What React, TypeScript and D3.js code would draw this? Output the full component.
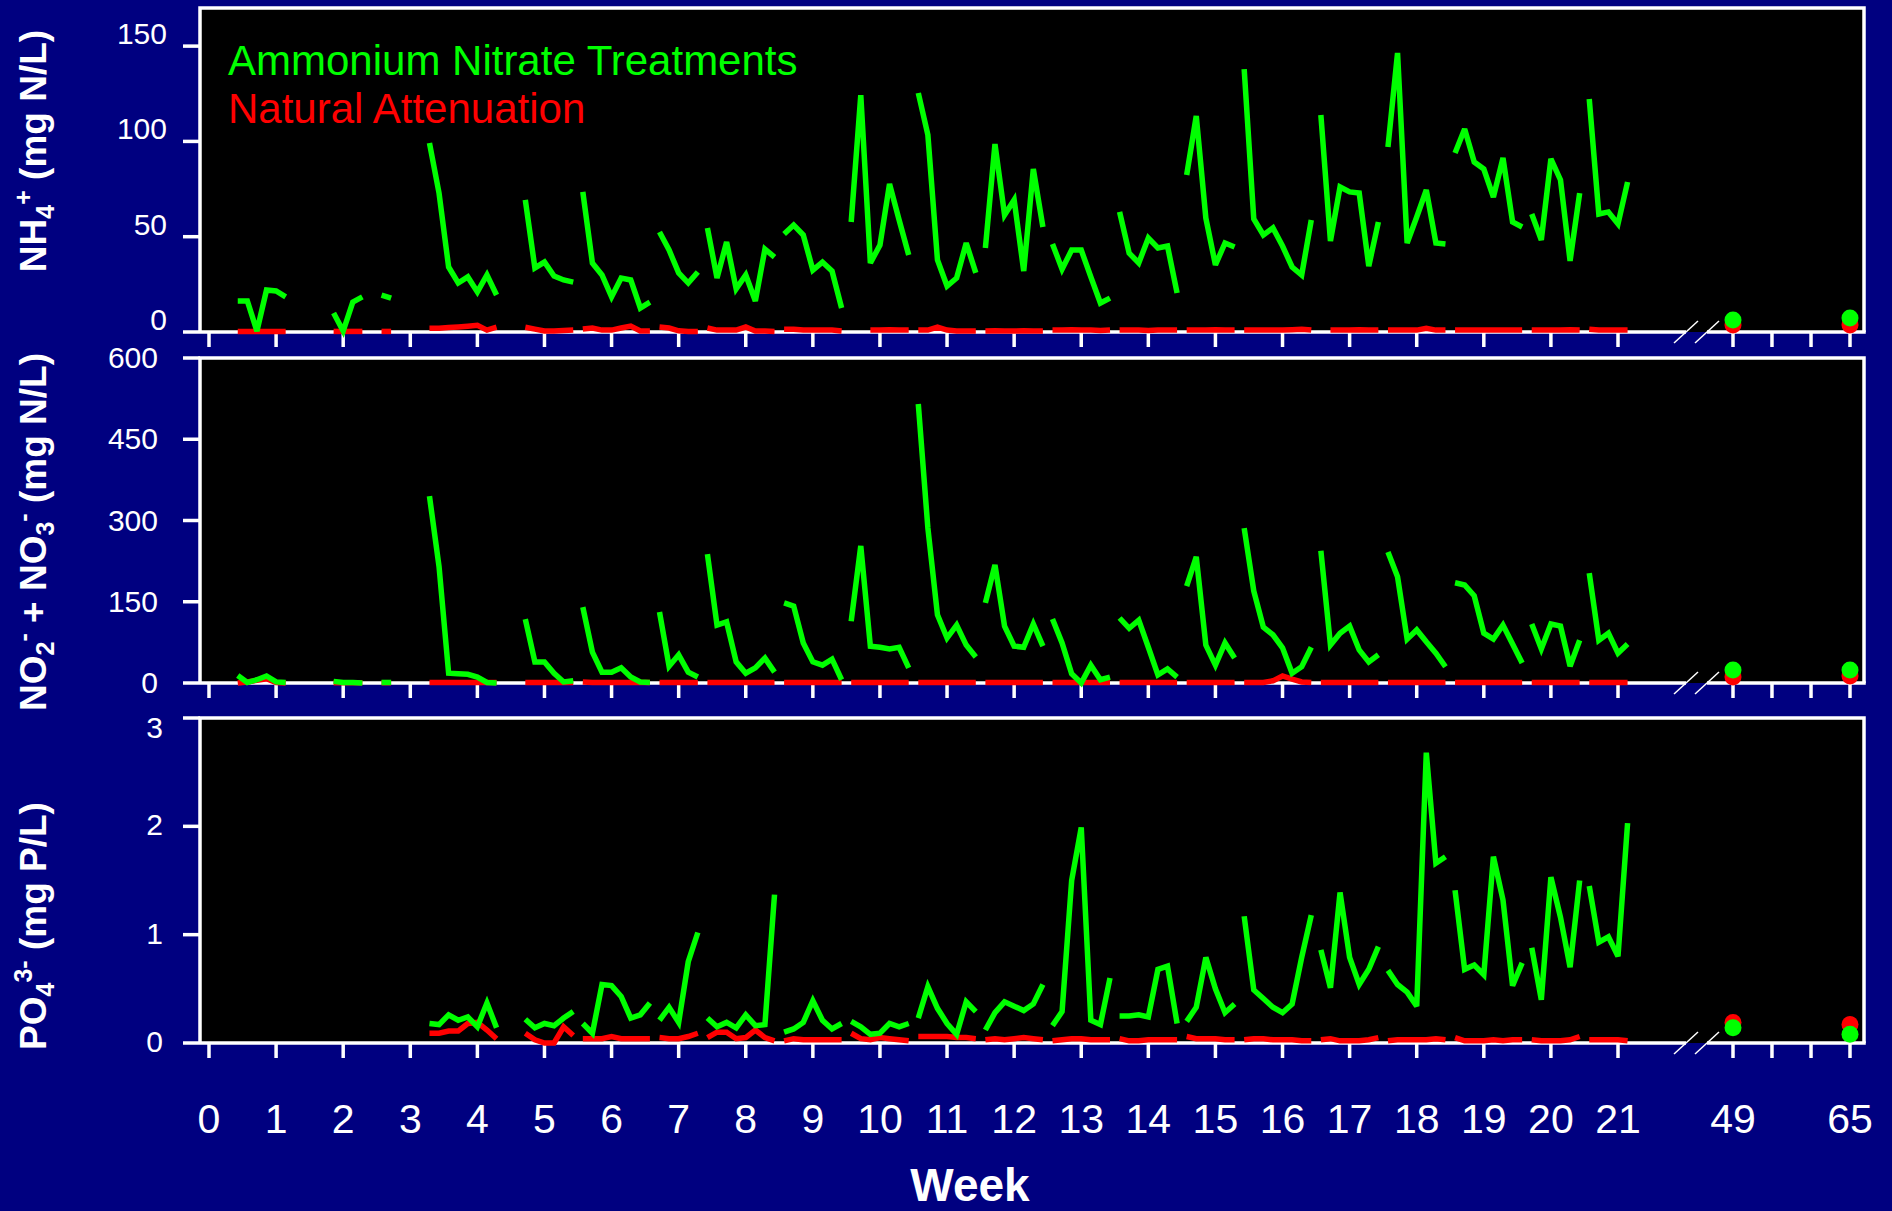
import React from 'react';
import * as d3 from 'd3';

// ---------- DATA ----------
// sampling days (since start) of each weekly segment
const segmentDays: number[][] = [
  [3, 4, 5, 6, 7, 8],
  [13, 14, 15, 16],
  [18, 19],
  [23, 24, 25, 26, 27, 28, 29, 30],
  [33, 34, 35, 36, 37, 38],
  [39, 40, 41, 42, 43, 44, 45, 46],
  [47, 48, 49, 50, 51],
  [52, 53, 54, 55, 56, 57, 58, 59],
  [60, 61, 62, 63, 64, 65, 66],
  [67, 68, 69, 70, 71, 72, 73],
  [74, 75, 76, 77, 78, 79, 80],
  [81, 82, 83, 84, 85, 86, 87],
  [88, 89, 90, 91, 92, 93, 94],
  [95, 96, 97, 98, 99, 100, 101],
  [102, 103, 104, 105, 106, 107],
  [108, 109, 110, 111, 112, 113, 114, 115],
  [116, 117, 118, 119, 120, 121, 122],
  [123, 124, 125, 126, 127, 128, 129],
  [130, 131, 132, 133, 134, 135, 136, 137],
  [138, 139, 140, 141, 142, 143],
  [144, 145, 146, 147, 148],
];

type V = number | null;

const nh4Treatment: V[][] = [
  [16.3, 16.3, 0.5, 22.0, 21.5, 18.4],
  [10, 0.5, 15.7, 18.4],
  [19.4, 17.8],
  [99.2, 72.9, 34.1, 25.7, 28.9, 21.0, 29.9, 19.4],
  [69.3, 33.6, 36.7, 29.4, 27.3, 26.2],
  [73.5, 36.2, 29.9, 18.4, 28.3, 27.3, 12.6, 15.7],
  [52.5, 43.0, 31.0, 25.7, 31.5],
  [54.6, 28.3, 47.2, 22.6, 29.9, 16.3, 43.5, 39.3],
  [51.4, 56.1, 50.9, 32.5, 36.7, 32.0, 12.6],
  [57.7, 124.3, 36.2, 45.6, 77.7, 58.8, 40.4],
  [125.4, 103.4, 37.8, 24.1, 28.3, 46.7, 31.0],
  [44.1, 98.6, 61.4, 69.3, 32.0, 85.5, 55.1],
  [46.2, 33.0, 43.0, 43.0, 28.9, 15.2, 17.8],
  [63.0, 41.4, 36.2, 49.3, 44.1, 45.1, 20.5],
  [82.4, 113.3, 59.8, 35.2, 46.7, 44.6],
  [137.9, 59.3, 50.9, 54.6, 45.1, 34.1, 29.9, 58.8],
  [113.9, 47.7, 76.1, 73.5, 72.9, 34.6, 57.7],
  [97.1, 146.4, 46.7, 60.3, 74.5, 46.7, 46.2],
  [93.9, 106.5, 89.2, 85.5, 70.8, 91.3, 57.7, 55.1],
  [61.9, 48.3, 90.8, 79.8, 37.3, 72.9],
  [122.2, 61.9, 63.0, 56.7, 78.7],
];

const nh4Natural: V[][] = [
  [0.3, 0.3, 0.3, 0.3, 0.3, 0.3],
  [0.3, 0.3, 0.3, 0.3],
  [0.3, 0.3],
  [2.0, 2.0, 2.3, 2.6, 3.0, 3.5, 1.0, 2.5],
  [2.5, 1.5, 0.5, 0.5, 0.8, 1.0],
  [1.6, 2.1, 1.0, 1.0, 2.1, 3.1, 0.5, 0.5],
  [2.6, 2.1, 0.6, 0.3, 0.3],
  [2.1, 1.0, 1.0, 1.0, 2.6, 0.5, 0.5, 0.3],
  [1.5, 1.5, 1.0, 1.0, 1.0, 1.0, 0.5],
  [null, null, 1.0, 1.0, 1.2, 1.0, 1.0],
  [1.0, 1.0, 2.6, 1.0, 0.5, 0.5, 0.5],
  [0.5, 0.6, 0.5, 0.5, 0.6, 0.5, 0.5],
  [1.0, 1.0, 1.2, 1.0, 1.0, 0.8, 1.0],
  [1.0, 1.0, 1.0, 0.8, 1.0, 1.0, 1.0],
  [1.0, 1.0, 1.0, 1.2, 1.0, 1.0],
  [1.0, 1.0, 1.0, 1.0, 1.0, 1.2, 1.5, 1.0],
  [null, 1.0, 1.0, 1.0, 1.2, 1.0, 1.0],
  [1.0, 1.0, 1.0, 1.0, 2.0, 1.0, 1.0],
  [1.0, 1.0, 1.0, 1.0, 1.0, 1.0, 1.0, 1.0],
  [1.0, 1.0, 1.0, 1.0, 1.2, 1.0],
  [1.5, 1.0, 1.0, 1.0, 1.0],
];

const noxTreatment: V[][] = [
  [14, 1, 6, 13, 2, 1],
  [3, 1, 1, 0],
  [1, 1],
  [345, 215, 18, 17, 16, 11, 1, 0],
  [118, 39, 39, 18, 2, 4],
  [140, 57, 20, 20, 28, 11, 2, 1],
  [131, 31, 52, 20, 11],
  [238, 107, 113, 39, 18, 28, 46, 20],
  [148, 142, 74, 39, 33, 44, 6],
  [114, 253, 68, 66, 63, 66, 28],
  [515, 286, 126, 83, 107, 70, 48],
  [148, 218, 105, 68, 66, 109, 68],
  [118, 74, 17, 0, 33, 6, 11],
  [120, 101, 116, 66, 15, 26, 11],
  [179, 233, 70, 33, 74, 46],
  [286, 170, 103, 89, 65, 18, 30, 66],
  [244, 70, 92, 105, 61, 39, 52],
  [242, 196, 81, 98, 76, 55, 30],
  [185, 181, 161, 92, 81, 107, 72, 37],
  [109, 63, 109, 105, 31, 79],
  [203, 79, 92, 55, 72],
];

const noxNatural: V[][] = [
  [0, 2, 5, 8, 1, 0],
  [0.5, 0.5, 0.5, 0.5],
  [0.5, 0.5],
  [1, 1, 1, 1, 1, 1, 1, 1],
  [1, 1, 1, 1, 1, 1],
  [2, 1, 1, 1, 1, 1, 1, 1],
  [1, 1, 1, 1, 1],
  [1, 1, 1, 1, 1, 1, 1, 1],
  [1, 1, 1, 1, 1, 1, 1],
  [1, 1, 1, 1, 1, 1, 1],
  [1, 1, 1, 1, 1, 1, 1],
  [1, 1, 1, 1, 1, 1, 1],
  [1, 1, 1, 1, 1, 1, 1],
  [1, 1, 1, 1, 1, 1, 1],
  [1, 1, 1, 1, 1, 1],
  [1, 1, 1, 4, 13, 7, 2, 1],
  [1, 1, 1, 1, 1, 1, 1],
  [1, 1, 1, 1, 1, 1, 1],
  [1, 1, 1, 1, 1, 1, 1, 1],
  [1, 1, 1, 1, 1, 1],
  [1, 1, 1, 1, 1],
];

const po4Treatment: V[][] = [
  [],
  [],
  [],
  [0.18, 0.17, 0.26, 0.21, 0.24, 0.15, 0.37, 0.14],
  [0.22, 0.14, 0.18, 0.16, 0.23, 0.29],
  [0.18, 0.09, 0.54, 0.53, 0.43, 0.23, 0.26, 0.37],
  [0.21, 0.33, 0.19, 0.75, 1.02],
  [0.23, 0.15, 0.19, 0.14, 0.26, 0.16, 0.17, 1.37],
  [0.10, 0.13, 0.19, 0.39, 0.21, 0.13, 0.18],
  [0.20, 0.15, 0.08, 0.09, 0.18, 0.15, 0.18],
  [0.23, 0.52, 0.32, 0.18, 0.08, 0.38, 0.29],
  [0.12, 0.28, 0.38, 0.34, 0.30, 0.36, 0.54],
  [0.16, 0.29, 1.50, 1.99, 0.21, 0.17, 0.60],
  [0.25, 0.25, 0.26, 0.24, 0.68, 0.71, 0.18],
  [0.20, 0.33, 0.79, 0.50, 0.28, 0.36],
  [1.17, 0.49, 0.41, 0.33, 0.28, 0.36, 0.79, 1.18],
  [0.86, 0.51, 1.39, 0.79, 0.54, 0.68, 0.89],
  [0.67, 0.54, 0.47, 0.34, 2.68, 1.66, 1.72],
  [1.41, 0.68, 0.72, 0.63, 1.72, 1.32, 0.53, 0.74],
  [0.88, 0.40, 1.53, 1.16, 0.70, 1.50],
  [1.45, 0.93, 0.98, 0.80, 2.03],
];

const po4Natural: V[][] = [
  [],
  [],
  [],
  [0.09, 0.09, 0.11, 0.11, 0.18, 0.19, 0.12, 0.04],
  [0.09, 0.03, 0.0, 0.0, 0.15, 0.07],
  [0.04, 0.04, 0.04, 0.06, 0.04, 0.04, 0.04, 0.04],
  [0.05, 0.04, 0.04, 0.06, 0.09],
  [0.05, 0.10, 0.10, 0.04, 0.05, 0.12, 0.05, 0.02],
  [0.02, 0.04, 0.03, 0.03, 0.03, 0.03, 0.03],
  [0.09, 0.04, 0.03, 0.05, 0.04, 0.03, 0.02],
  [0.06, 0.06, 0.06, 0.06, 0.05, 0.05, 0.04],
  [0.03, 0.04, 0.03, 0.04, 0.05, 0.04, 0.03],
  [0.02, 0.03, 0.04, 0.04, 0.03, 0.03, 0.03],
  [0.04, 0.02, 0.02, 0.03, 0.03, 0.03, 0.03],
  [0.06, 0.04, 0.04, 0.04, 0.03, 0.03],
  [0.03, 0.04, 0.04, 0.03, 0.03, 0.03, 0.02, 0.02],
  [0.03, 0.04, 0.02, 0.02, 0.02, 0.03, 0.05],
  [0.02, 0.03, 0.03, 0.03, 0.03, 0.04, 0.03],
  [0.05, 0.02, 0.02, 0.02, 0.03, 0.02, 0.03, 0.03],
  [0.03, 0.02, 0.02, 0.02, 0.03, 0.06],
  [0.03, 0.03, 0.03, 0.03, 0.02],
];

// long-term samples (weeks 49 and 65)
const lateWeeks = [49, 65];
const nh4LateTreatment = [6.3, 7.3];
const nh4LateNatural = [3.7, 3.7];
const noxLateTreatment = [24, 24];
const noxLateNatural = [11, 13];
const po4LateTreatment = [0.14, 0.08];
const po4LateNatural = [0.19, 0.17];

// axis ticks
const weekTicks = [0, 1, 2, 3, 4, 5, 6, 7, 8, 9, 10, 11, 12, 13, 14, 15, 16, 17, 18, 19, 20, 21];
const lateTicks = [49, 54.33, 59.67, 65];
const labelledLateTicks = [49, 65];
const nh4Ticks = [0, 50, 100, 150];
const noxTicks = [0, 150, 300, 450, 600];
const po4Ticks = [0, 1, 2, 3];

const legendLabels = ['Ammonium Nitrate Treatments', 'Natural Attenuation'];

// ---------- LAYOUT ----------
const W = 1892;
const H = 1211;
const LEFT = 200;
const RIGHT = 1864;
const BG = '#000080';
const GREEN = '#00ff00';
const RED = '#ff0000';
const FONT = '"Liberation Sans", Arial, Helvetica, sans-serif';
const GAP = [1686, 1707];
const LW = 5.5;

// broken x axis: study weeks and long-term weeks use separate linear scales
const xEarly = d3.scaleLinear().domain([0, 21]).range([209, 1618]);
const xLate = d3.scaleLinear().domain([49, 65]).range([1733, 1850]);
const xScale = (w: number) => (w < 35 ? xEarly(w) : xLate(w));

type Panel = {
  top: number;
  zero: number;
  max: number;
  ticks: number[];
  treat: V[][];
  nat: V[][];
  lateT: number[];
  lateN: number[];
  labelX: number;
  labelDy: number;
  topLabelDy: number;
  titleY: number;
  title: React.ReactNode;
};

const SUB = { fontSize: 25 };

const panels: Panel[] = [
  {
    top: 8, zero: 332, max: 170, ticks: nh4Ticks, treat: nh4Treatment, nat: nh4Natural,
    lateT: nh4LateTreatment, lateN: nh4LateNatural, labelX: 167, labelDy: -2, topLabelDy: -2, titleY: 151,
    title: (
      <>
        NH<tspan baselineShift="-8" style={SUB}>4</tspan>
        <tspan baselineShift="14" style={SUB}>+</tspan> (mg N/L)
      </>
    ),
  },
  {
    top: 358, zero: 683, max: 600, ticks: noxTicks, treat: noxTreatment, nat: noxNatural,
    lateT: noxLateTreatment, lateN: noxLateNatural, labelX: 158, labelDy: 10, topLabelDy: 10, titleY: 532,
    title: (
      <>
        NO<tspan baselineShift="-8" style={SUB}>2</tspan>
        <tspan baselineShift="14" style={SUB}>-</tspan> + NO<tspan baselineShift="-8" style={SUB}>3</tspan>
        <tspan baselineShift="14" style={SUB}>-</tspan> (mg N/L)
      </>
    ),
  },
  {
    top: 718, zero: 1043, max: 3, ticks: po4Ticks, treat: po4Treatment, nat: po4Natural,
    lateT: po4LateTreatment, lateN: po4LateNatural, labelX: 163, labelDy: 9, topLabelDy: 20, titleY: 926,
    title: (
      <>
        PO<tspan baselineShift="-8" style={SUB}>4</tspan>
        <tspan baselineShift="14" style={SUB}>3-</tspan> (mg P/L)
      </>
    ),
  },
];

function PanelView({ p }: { p: Panel }) {
  const y = d3.scaleLinear().domain([0, p.max]).range([p.zero, p.top]);
  const line = d3
    .line<[number, V]>()
    .defined((d) => d[1] != null)
    .x((d) => xScale(d[0]))
    .y((d) => y(d[1] as number));

  const seg = (vals: V[][]) =>
    segmentDays.map((days, i) => {
      const v = vals[i] || [];
      if (!v.length) return null;
      const pts: [number, V][] = days.map((d, j) => [d / 7, v[j] ?? null]);
      return line(pts);
    });

  const natPaths = seg(p.nat);
  const treatPaths = seg(p.treat);
  const allTicks = [...weekTicks, ...lateTicks];

  return (
    <g>
      <rect x={LEFT} y={p.top} width={RIGHT - LEFT} height={p.zero - p.top} fill="#000" />
      {/* frame */}
      <path
        d={`M${LEFT},${p.zero}V${p.top}H${RIGHT}V${p.zero}`}
        fill="none"
        stroke="#fff"
        strokeWidth={3.5}
      />
      {/* x axis line with break */}
      <line x1={LEFT} x2={GAP[0]} y1={p.zero} y2={p.zero} stroke="#fff" strokeWidth={3.5} />
      <line x1={GAP[1]} x2={RIGHT + 1.75} y1={p.zero} y2={p.zero} stroke="#fff" strokeWidth={3.5} />
      {GAP.map((gx, i) => (
        <line key={i} x1={gx - 12} y1={p.zero + 11} x2={gx + 12} y2={p.zero - 11} stroke="#fff" strokeWidth={1.5} />
      ))}
      {/* x ticks */}
      {allTicks.map((t, i) => (
        <line key={i} x1={xScale(t)} x2={xScale(t)} y1={p.zero} y2={p.zero + 15} stroke="#fff" strokeWidth={3.5} />
      ))}
      {/* y ticks */}
      {p.ticks.map((t, i) => (
        <g key={i}>
          <line x1={183} x2={LEFT} y1={y(t)} y2={y(t)} stroke="#fff" strokeWidth={3.5} />
          <text
            x={p.labelX}
            y={y(t) + (i === p.ticks.length - 1 ? p.topLabelDy : p.labelDy)}
            fill="#fff"
            fontSize={30}
            textAnchor="end"
            fontFamily={FONT}
          >
            {t}
          </text>
        </g>
      ))}
      {/* title */}
      <text
        transform={`translate(46,${p.titleY}) rotate(-90)`}
        textAnchor="middle"
        fill="#fff"
        fontSize={37}
        fontWeight="bold"
        fontFamily={FONT}
      >
        {p.title}
      </text>
      {/* series */}
      {natPaths.map((d, i) =>
        d ? <path key={'n' + i} d={d} fill="none" stroke={RED} strokeWidth={LW} strokeLinejoin="miter" strokeMiterlimit={3} /> : null
      )}
      {treatPaths.map((d, i) =>
        d ? <path key={'t' + i} d={d} fill="none" stroke={GREEN} strokeWidth={LW} strokeLinejoin="miter" strokeMiterlimit={3} /> : null
      )}
      {lateWeeks.map((w, i) => (
        <circle key={'ln' + i} cx={xScale(w)} cy={y(p.lateN[i])} r={8.5} fill={RED} />
      ))}
      {lateWeeks.map((w, i) => (
        <circle key={'lt' + i} cx={xScale(w)} cy={y(p.lateT[i])} r={8.5} fill={GREEN} />
      ))}
    </g>
  );
}

export default function App() {
  return (
    <svg
      width={W}
      height={H}
      viewBox={`0 0 ${W} ${H}`}
      style={{ position: 'absolute', left: 0, top: 0, display: 'block' }}
    >
      <rect x={0} y={0} width={W} height={H} fill={BG} />
      {panels.map((p, i) => (
        <PanelView key={i} p={p} />
      ))}
      {/* x tick labels */}
      {[...weekTicks, ...labelledLateTicks].map((t, i) => (
        <text key={i} x={xScale(t)} y={1133} fill="#fff" fontSize={41} textAnchor="middle" fontFamily={FONT}>
          {t}
        </text>
      ))}
      <text x={970} y={1201} fill="#fff" fontSize={46} fontWeight="bold" textAnchor="middle" fontFamily={FONT}>
        Week
      </text>
      {/* legend */}
      <text x={228} y={75} fill={GREEN} fontSize={42} fontFamily={FONT}>
        {legendLabels[0]}
      </text>
      <text x={228} y={123} fill={RED} fontSize={42} fontFamily={FONT}>
        {legendLabels[1]}
      </text>
    </svg>
  );
}
